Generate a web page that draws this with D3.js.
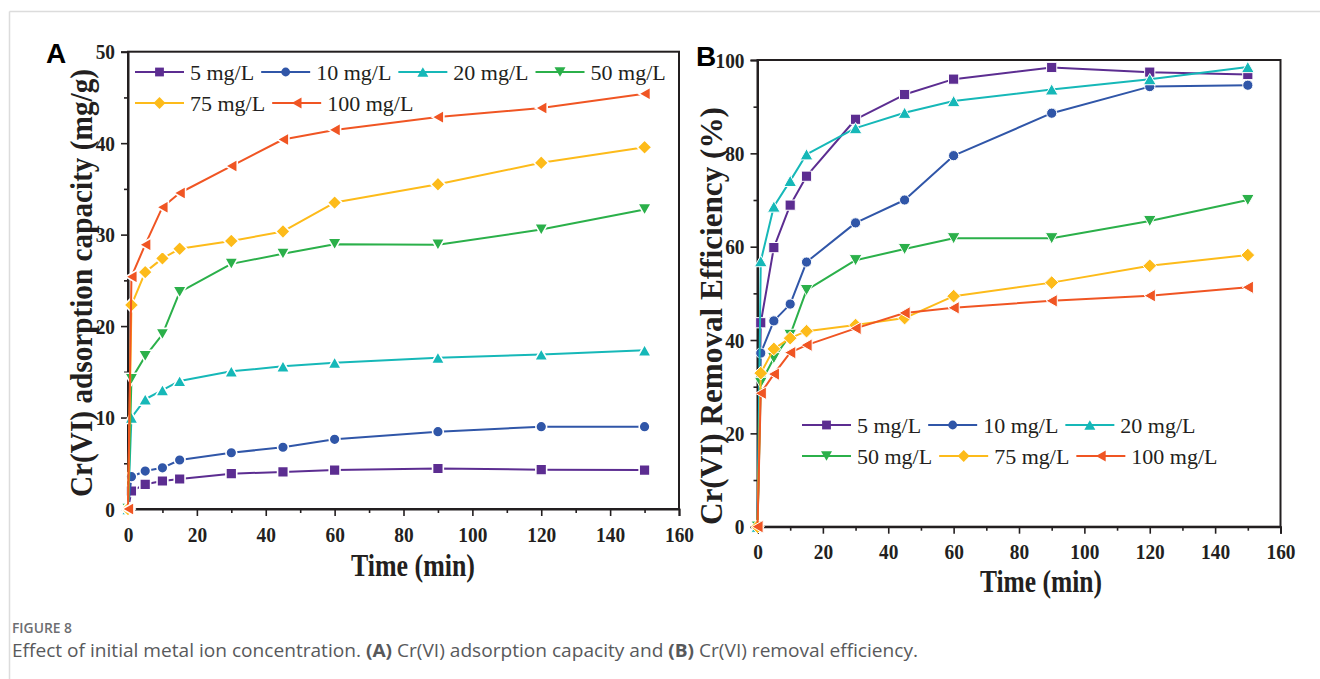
<!DOCTYPE html>
<html>
<head>
<meta charset="utf-8">
<script src="https://cdn.jsdelivr.net/npm/d3@7"></script>
<style>
  body { margin: 0; background: #fff; }
  svg { display: block; }
</style>
</head>
<body>
<svg id="fig" width="1320" height="679"></svg>
<script>
// Sampling times (min)
const times = [0, 1, 5, 10, 15, 30, 45, 60, 90, 120, 150];

// Initial Cr(VI) concentrations
const seriesNames = ["5 mg/L", "10 mg/L", "20 mg/L", "50 mg/L", "75 mg/L", "100 mg/L"];
const seriesColors = ["#5c2d91", "#3056a8", "#16b8b8", "#2bb04a", "#fdbb1a", "#f05523"];
const seriesMarkers = ["square", "circle", "triangleUp", "triangleDown", "diamond", "triangleLeft"];

// (A) adsorption capacity, mg/g
const capacity5   = [0, 1.97, 2.70, 3.06, 3.28, 3.86, 4.05, 4.26, 4.43, 4.30, 4.26];
const capacity10  = [0, 3.53, 4.15, 4.50, 5.36, 6.15, 6.75, 7.62, 8.45, 9.00, 9.00];
const capacity20  = [0, 10.0, 12.0, 13.0, 14.0, 15.05, 15.6, 16.0, 16.55, 16.9, 17.35];
const capacity50  = [0, 14.2, 16.7, 19.1, 23.7, 26.8, 27.9, 28.95, 28.9, 30.55, 32.75];
const capacity75  = [0, 22.3, 25.9, 27.4, 28.45, 29.3, 30.35, 33.5, 35.5, 37.85, 39.55];
const capacity100 = [0, 25.4, 28.9, 33.0, 34.55, 37.5, 40.4, 41.45, 42.85, 43.85, 45.4];

// (B) removal efficiency, %
const removal5   = [0, 43.7, 59.8, 68.9, 75.1, 87.3, 92.6, 95.9, 98.4, 97.4, 96.9];
const removal10  = [0, 37.2, 44.1, 47.7, 56.7, 65.1, 70.0, 79.5, 88.6, 94.3, 94.6];
const removal20  = [0, 56.9, 68.6, 74.1, 79.8, 85.4, 88.7, 91.2, 93.7, 95.9, 98.5];
const removal50  = [0, 30.8, 36.1, 41.1, 50.7, 57.1, 59.5, 61.8, 61.8, 65.5, 70.0];
const removal75  = [0, 32.9, 38.1, 40.4, 41.9, 43.2, 44.7, 49.4, 52.3, 55.9, 58.2];
const removal100 = [0, 28.6, 32.7, 37.3, 38.9, 42.5, 45.8, 46.9, 48.4, 49.5, 51.3];

// Tick values
const timeTicks = [0, 20, 40, 60, 80, 100, 120, 140, 160];
const timeMinorTicks = [10, 30, 50, 70, 90, 110, 130, 150];
const capacityTicks = [0, 10, 20, 30, 40, 50];
const capacityMinorTicks = [5, 15, 25, 35, 45];
const removalTicks = [0, 20, 40, 60, 80, 100];
const removalMinorTicks = [10, 30, 50, 70, 90];

const capacitySeries = [capacity5, capacity10, capacity20, capacity50, capacity75, capacity100];
const removalSeries = [removal5, removal10, removal20, removal50, removal75, removal100];

const svg = d3.select("#fig");
const SERIF = "'Liberation Serif', 'Times New Roman', serif";
const SANS = "'Open Sans', 'Noto Sans', sans-serif";
const INK = "#231f20";

// Page frame
svg.append("line").attr("x1", 9.5).attr("x2", 1320).attr("y1", 11.5).attr("y2", 11.5)
  .attr("stroke", "#dcdcdc").attr("stroke-width", 1.5);
svg.append("line").attr("x1", 9.5).attr("x2", 9.5).attr("y1", 11.5).attr("y2", 679)
  .attr("stroke", "#dcdcdc").attr("stroke-width", 1.5);

// Marker outlines, k = half size
function markerPath(type, k) {
  switch (type) {
    case "square": return `M${-k},${-k}H${k}V${k}H${-k}Z`;
    case "circle": return `M${k},0A${k},${k} 0 1,1 ${-k},0A${k},${k} 0 1,1 ${k},0Z`;
    case "triangleUp": { const w = k * 1.25, h = k * 1.1; return `M0,${-h}L${w},${h}L${-w},${h}Z`; }
    case "triangleDown": { const w = k * 1.25, h = k * 1.1; return `M0,${h}L${w},${-h}L${-w},${-h}Z`; }
    case "diamond": { const d = k * 1.35; return `M0,${-d}L${d},0L0,${d}L${-d},0Z`; }
    case "triangleLeft": { const w = k * 1.1, h = k * 1.25; return `M${-w},0L${w},${-h}L${w},${h}Z`; }
  }
}

function styleTickText(sel, sx) {
  sel.attr("font-family", SERIF).attr("font-weight", "bold").attr("font-size", 22)
    .attr("fill", INK);
  sel.attr("transform", `scale(${sx},1)`);
}

function drawPanel(cfg) {
  const x = d3.scaleLinear().domain([0, 160]).range(cfg.xRange);
  const y = d3.scaleLinear().domain(cfg.yDomain).range(cfg.yRange);
  const g = svg.append("g");
  const [x0, x1] = cfg.xRange;
  const [yb, yt] = cfg.yRange;
  const sx = 0.88;

  // Box
  g.append("rect").attr("x", x0).attr("y", yt).attr("width", x1 - x0).attr("height", yb - yt)
    .attr("fill", "none").attr("stroke", INK).attr("stroke-width", 2);

  // Bottom axis
  const xAx = g.append("g").attr("transform", `translate(0,${yb})`)
    .call(d3.axisBottom(x).tickValues(timeTicks).tickSize(7).tickPadding(10).tickFormat(d3.format("d")));
  g.append("g").attr("transform", `translate(0,${yb})`)
    .call(d3.axisBottom(x).tickValues(timeMinorTicks).tickSize(4).tickFormat(""))
    .call(a => a.select(".domain").remove());
  // Left axis
  const yAx = g.append("g").attr("transform", `translate(${x0},0)`)
    .call(d3.axisLeft(y).tickValues(cfg.yTicks).tickSize(7).tickPadding(6).tickFormat(d3.format("d")));
  g.append("g").attr("transform", `translate(${x0},0)`)
    .call(d3.axisLeft(y).tickValues(cfg.yMinor).tickSize(4).tickFormat(""))
    .call(a => a.select(".domain").remove());

  g.selectAll(".domain").attr("stroke", INK).attr("stroke-width", 2);
  g.selectAll(".tick line").attr("stroke", INK).attr("stroke-width", 1.6);
  styleTickText(xAx.selectAll("text"), sx);
  xAx.selectAll("text").attr("x", 0);
  styleTickText(yAx.selectAll("text"), sx);
  yAx.selectAll("text").attr("x", -13 / sx);

  // Axis titles
  g.append("text").text("Time (min)")
    .attr("transform", `translate(${cfg.xTitle[0]},${cfg.xTitle[1]})`)
    .attr("text-anchor", "middle").attr("font-family", SERIF).attr("font-weight", "bold")
    .attr("font-size", 31).attr("fill", INK)
    .attr("textLength", cfg.xTitleLen).attr("lengthAdjust", "spacingAndGlyphs");
  g.append("text").text(cfg.yTitle)
    .attr("transform", `translate(${cfg.yTitlePos[0]},${cfg.yTitlePos[1]}) rotate(-90)`)
    .attr("text-anchor", "middle").attr("font-family", SERIF).attr("font-weight", "bold")
    .attr("font-size", 32).attr("fill", INK)
    .attr("textLength", cfg.yTitleLen).attr("lengthAdjust", "spacingAndGlyphs");

  // Panel letter
  g.append("text").text(cfg.letter).attr("x", cfg.letterPos[0]).attr("y", cfg.letterPos[1])
    .attr("font-family", "'Liberation Sans', Arial, sans-serif").attr("font-weight", "bold")
    .attr("font-size", 28).attr("fill", "#000");

  // Series
  const line = d3.line().x((d, i) => x(times[i])).y(d => y(d));
  cfg.series.forEach((vals, s) => {
    const sg = g.append("g");
    sg.append("path").datum(vals).attr("d", line)
      .attr("fill", "none").attr("stroke", seriesColors[s]).attr("stroke-width", 2)
      .attr("stroke-linejoin", "round");
    sg.selectAll("path.m").data(vals).join("path").attr("class", "m")
      .attr("transform", (d, i) => `translate(${x(times[i])},${y(d)})`)
      .attr("d", markerPath(seriesMarkers[s], cfg.markerK))
      .attr("fill", seriesColors[s])
      .attr("stroke", "#fff").attr("stroke-width", cfg.halo);
  });

  // Legend
  cfg.legendRows.forEach((row, r) => {
    let cx = cfg.legendX;
    const cy = cfg.legendY[r];
    row.forEach(s => {
      const lg = g.append("g");
      lg.append("line").attr("x1", cx).attr("x2", cx + 49).attr("y1", cy).attr("y2", cy)
        .attr("stroke", seriesColors[s]).attr("stroke-width", 2);
      lg.append("path").attr("transform", `translate(${cx + 24.5},${cy})`)
        .attr("d", markerPath(seriesMarkers[s], 4.4)).attr("fill", seriesColors[s]);
      const t = lg.append("text").text(seriesNames[s]).attr("x", cx + 55).attr("y", cy + 7.5)
        .attr("font-family", SERIF).attr("font-size", 22).attr("fill", INK);
      cx += 55 + t.node().getComputedTextLength() + 7;
    });
  });
}

drawPanel({
  letter: "A", letterPos: [46, 63],
  xRange: [128, 679], yDomain: [0, 50], yRange: [509, 51.7],
  yTicks: capacityTicks, yMinor: capacityMinorTicks,
  xTitle: [413, 576], xTitleLen: 124,
  yTitle: "Cr(VI) adsorption capacity (mg/g)", yTitlePos: [92, 283], yTitleLen: 428,
  series: capacitySeries, markerK: 5.4, halo: 1.6,
  legendX: 135, legendY: [72, 103], legendRows: [[0, 1, 2, 3], [4, 5]]
});

drawPanel({
  letter: "B", letterPos: [696, 66],
  xRange: [757.5, 1280.5], yDomain: [0, 100], yRange: [526.7, 60],
  yTicks: removalTicks, yMinor: removalMinorTicks,
  xTitle: [1041, 592], xTitleLen: 122,
  yTitle: "Cr(VI) Removal Efficiency (%)", yTitlePos: [722, 316], yTitleLen: 418,
  series: removalSeries, markerK: 5.1, halo: 1,
  legendX: 802, legendY: [425, 456], legendRows: [[0, 1, 2], [3, 4, 5]]
});

// Caption
svg.append("text").text("FIGURE 8").attr("x", 12).attr("y", 633)
  .attr("font-family", SANS).attr("font-weight", 600)
  .attr("font-size", 14).attr("fill", "#6d6e71")
  .attr("textLength", 60).attr("lengthAdjust", "spacingAndGlyphs");
const cap = svg.append("text").attr("x", 12).attr("y", 657)
  .attr("font-family", SANS).attr("font-size", 18.5)
  .attr("fill", "#58595b")
  .attr("textLength", 906).attr("lengthAdjust", "spacingAndGlyphs");
[["Effect of initial metal ion concentration. ", 400], ["(A)", 700], [" Cr(VI) adsorption capacity and ", 400],
 ["(B)", 700], [" Cr(VI) removal efficiency.", 400]].forEach(([t, w]) => {
  cap.append("tspan").text(t).attr("font-weight", w);
});
</script>
</body>
</html>
